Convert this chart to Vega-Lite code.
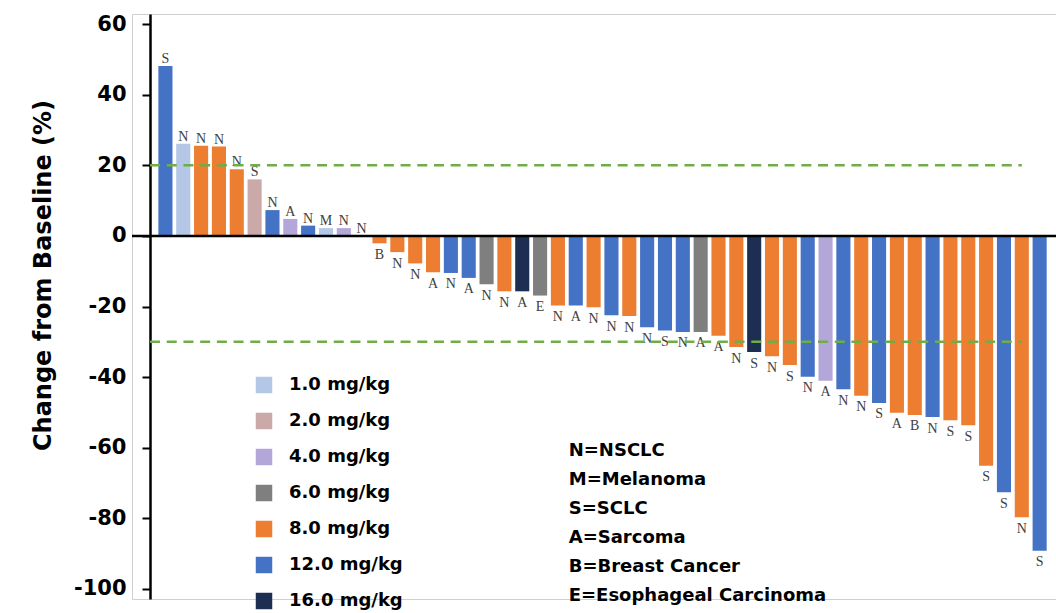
{
  "$schema": "https://vega.github.io/schema/vega-lite/v6.json",
  "width": 924,
  "height": 585,
  "autosize": {"type": "none"},
  "padding": {"left": 132, "top": 14, "right": 0, "bottom": 14},
  "background": "white",
  "config": {"view": {"stroke": "#cfcfcf", "strokeWidth": 1}, "font": "DejaVu Sans"},
  "data": {
    "values": [
      {"id": 1, "v": 48.1, "dose": "12.0 mg/kg", "t": "S"},
      {"id": 2, "v": 26.1, "dose": "1.0 mg/kg", "t": "N"},
      {"id": 3, "v": 25.5, "dose": "8.0 mg/kg", "t": "N"},
      {"id": 4, "v": 25.3, "dose": "8.0 mg/kg", "t": "N"},
      {"id": 5, "v": 18.9, "dose": "8.0 mg/kg", "t": "N"},
      {"id": 6, "v": 16.0, "dose": "2.0 mg/kg", "t": "S"},
      {"id": 7, "v": 7.3, "dose": "12.0 mg/kg", "t": "N"},
      {"id": 8, "v": 4.8, "dose": "4.0 mg/kg", "t": "A"},
      {"id": 9, "v": 2.9, "dose": "12.0 mg/kg", "t": "N"},
      {"id": 10, "v": 2.2, "dose": "1.0 mg/kg", "t": "M"},
      {"id": 11, "v": 2.2, "dose": "4.0 mg/kg", "t": "N"},
      {"id": 12, "v": 0, "dose": "8.0 mg/kg", "t": "N"},
      {"id": 13, "v": -2.1, "dose": "8.0 mg/kg", "t": "B"},
      {"id": 14, "v": -4.6, "dose": "8.0 mg/kg", "t": "N"},
      {"id": 15, "v": -7.8, "dose": "8.0 mg/kg", "t": "N"},
      {"id": 16, "v": -10.3, "dose": "8.0 mg/kg", "t": "A"},
      {"id": 17, "v": -10.5, "dose": "12.0 mg/kg", "t": "N"},
      {"id": 18, "v": -11.9, "dose": "12.0 mg/kg", "t": "A"},
      {"id": 19, "v": -13.7, "dose": "6.0 mg/kg", "t": "N"},
      {"id": 20, "v": -15.7, "dose": "8.0 mg/kg", "t": "N"},
      {"id": 21, "v": -15.7, "dose": "16.0 mg/kg", "t": "A"},
      {"id": 22, "v": -16.9, "dose": "6.0 mg/kg", "t": "E"},
      {"id": 23, "v": -19.7, "dose": "8.0 mg/kg", "t": "N"},
      {"id": 24, "v": -19.7, "dose": "12.0 mg/kg", "t": "A"},
      {"id": 25, "v": -20.2, "dose": "8.0 mg/kg", "t": "N"},
      {"id": 26, "v": -22.5, "dose": "12.0 mg/kg", "t": "N"},
      {"id": 27, "v": -22.7, "dose": "8.0 mg/kg", "t": "N"},
      {"id": 28, "v": -25.9, "dose": "12.0 mg/kg", "t": "N"},
      {"id": 29, "v": -26.8, "dose": "12.0 mg/kg", "t": "S"},
      {"id": 30, "v": -27.2, "dose": "12.0 mg/kg", "t": "N"},
      {"id": 31, "v": -27.2, "dose": "6.0 mg/kg", "t": "A"},
      {"id": 32, "v": -28.3, "dose": "8.0 mg/kg", "t": "A"},
      {"id": 33, "v": -31.5, "dose": "8.0 mg/kg", "t": "N"},
      {"id": 34, "v": -32.9, "dose": "16.0 mg/kg", "t": "S"},
      {"id": 35, "v": -34.1, "dose": "8.0 mg/kg", "t": "N"},
      {"id": 36, "v": -36.6, "dose": "8.0 mg/kg", "t": "S"},
      {"id": 37, "v": -39.9, "dose": "12.0 mg/kg", "t": "N"},
      {"id": 38, "v": -41.0, "dose": "4.0 mg/kg", "t": "A"},
      {"id": 39, "v": -43.4, "dose": "12.0 mg/kg", "t": "N"},
      {"id": 40, "v": -45.3, "dose": "8.0 mg/kg", "t": "N"},
      {"id": 41, "v": -47.3, "dose": "12.0 mg/kg", "t": "S"},
      {"id": 42, "v": -50.1, "dose": "8.0 mg/kg", "t": "A"},
      {"id": 43, "v": -50.7, "dose": "8.0 mg/kg", "t": "B"},
      {"id": 44, "v": -51.3, "dose": "12.0 mg/kg", "t": "N"},
      {"id": 45, "v": -52.2, "dose": "8.0 mg/kg", "t": "S"},
      {"id": 46, "v": -53.6, "dose": "8.0 mg/kg", "t": "S"},
      {"id": 47, "v": -65.1, "dose": "8.0 mg/kg", "t": "S"},
      {"id": 48, "v": -72.6, "dose": "12.0 mg/kg", "t": "S"},
      {"id": 49, "v": -79.7, "dose": "8.0 mg/kg", "t": "N"},
      {"id": 50, "v": -89.2, "dose": "12.0 mg/kg", "t": "S"}
    ]
  },
  "layer": [
    {
      "mark": {"type": "bar"},
      "encoding": {
        "x": {
          "field": "id",
          "type": "ordinal",
          "axis": null,
          "scale": {"paddingInner": 0.21, "paddingOuter": 1.065, "align": 0.739}
        },
        "y": {
          "field": "v",
          "type": "quantitative",
          "scale": {"domain": [-102.832, 62.832], "nice": false, "zero": false},
          "axis": {
            "values": [-100, -80, -60, -40, -20, 0, 20, 40, 60],
            "offset": -18,
            "grid": false,
            "domainColor": "black",
            "domainWidth": 2.5,
            "tickColor": "black",
            "tickWidth": 2,
            "tickSize": 8,
            "labelFont": "DejaVu Sans",
            "labelFontWeight": "bold",
            "labelFontSize": 21,
            "labelColor": "black",
            "labelPadding": 16,
            "labelExpr": "'' + datum.value",
            "title": "Change from Baseline (%)",
            "titleFont": "DejaVu Sans",
            "titleFontSize": 24,
            "titleFontWeight": "bold",
            "titleColor": "black",
            "titleX": -100,
            "titleY": 261,
            "titleAlign": "center",
            "titleBaseline": "alphabetic",
            "titleAngle": -90
          }
        },
        "color": {
          "field": "dose",
          "type": "nominal",
          "scale": {
            "domain": ["1.0 mg/kg", "2.0 mg/kg", "4.0 mg/kg", "6.0 mg/kg", "8.0 mg/kg", "12.0 mg/kg", "16.0 mg/kg"],
            "range": ["#b4c7e7", "#cba9a8", "#b3a6d9", "#7f7f7f", "#ed7d31", "#4472c4", "#1c2f52"]
          },
          "legend": {
            "orient": "none",
            "legendX": 123,
            "legendY": 362,
            "title": null,
            "symbolType": "square",
            "symbolSize": 272,
            "symbolStrokeWidth": 0,
            "symbolOpacity": 1,
            "labelFont": "DejaVu Sans",
            "labelFontWeight": "bold",
            "labelFontSize": 18,
            "labelColor": "black",
            "labelOffset": 16,
            "rowPadding": 18,
            "padding": 0
          }
        }
      }
    },
    {
      "transform": [{"filter": "datum.v >= 0"}],
      "mark": {"type": "text", "font": "Liberation Serif", "fontSize": 14, "color": "#404040", "baseline": "alphabetic", "dy": -3},
      "encoding": {
        "x": {"field": "id", "type": "ordinal"},
        "y": {"field": "v", "type": "quantitative"},
        "text": {"field": "t"}
      }
    },
    {
      "transform": [{"filter": "datum.v < 0"}],
      "mark": {"type": "text", "font": "Liberation Serif", "fontSize": 14, "color": "#404040", "baseline": "alphabetic", "dy": 15.5},
      "encoding": {
        "x": {"field": "id", "type": "ordinal"},
        "y": {"field": "v", "type": "quantitative"},
        "text": {"field": "t"}
      }
    },
    {
      "data": {"values": [{}]},
      "mark": {"type": "rule", "color": "black", "strokeWidth": 2.5},
      "encoding": {"y": {"datum": 0}}
    },
    {
      "data": {"values": [{}]},
      "mark": {"type": "rule", "color": "#70ad47", "strokeWidth": 2.5, "strokeDash": [10, 6.7]},
      "encoding": {
        "y": {"datum": 20},
        "x": {"datum": 1, "type": "ordinal", "bandPosition": -0.59},
        "x2": {"datum": 49}
      }
    },
    {
      "data": {"values": [{}]},
      "mark": {"type": "rule", "color": "#70ad47", "strokeWidth": 2.5, "strokeDash": [10, 6.7]},
      "encoding": {
        "y": {"datum": -30},
        "x": {"datum": 1, "type": "ordinal", "bandPosition": -0.59},
        "x2": {"datum": 49}
      }
    },
    {
      "data": {"values": [{}]},
      "mark": {"type": "text", "align": "left", "baseline": "alphabetic", "font": "DejaVu Sans", "fontWeight": "bold", "fontSize": 18, "lineHeight": 29, "color": "black"},
      "encoding": {
        "x": {"datum": 24, "type": "ordinal", "bandPosition": 0},
        "y": {"datum": -62.33},
        "text": {"value": ["N=NSCLC", "M=Melanoma", "S=SCLC", "A=Sarcoma", "B=Breast Cancer", "E=Esophageal Carcinoma"]}
      }
    }
  ]
}
